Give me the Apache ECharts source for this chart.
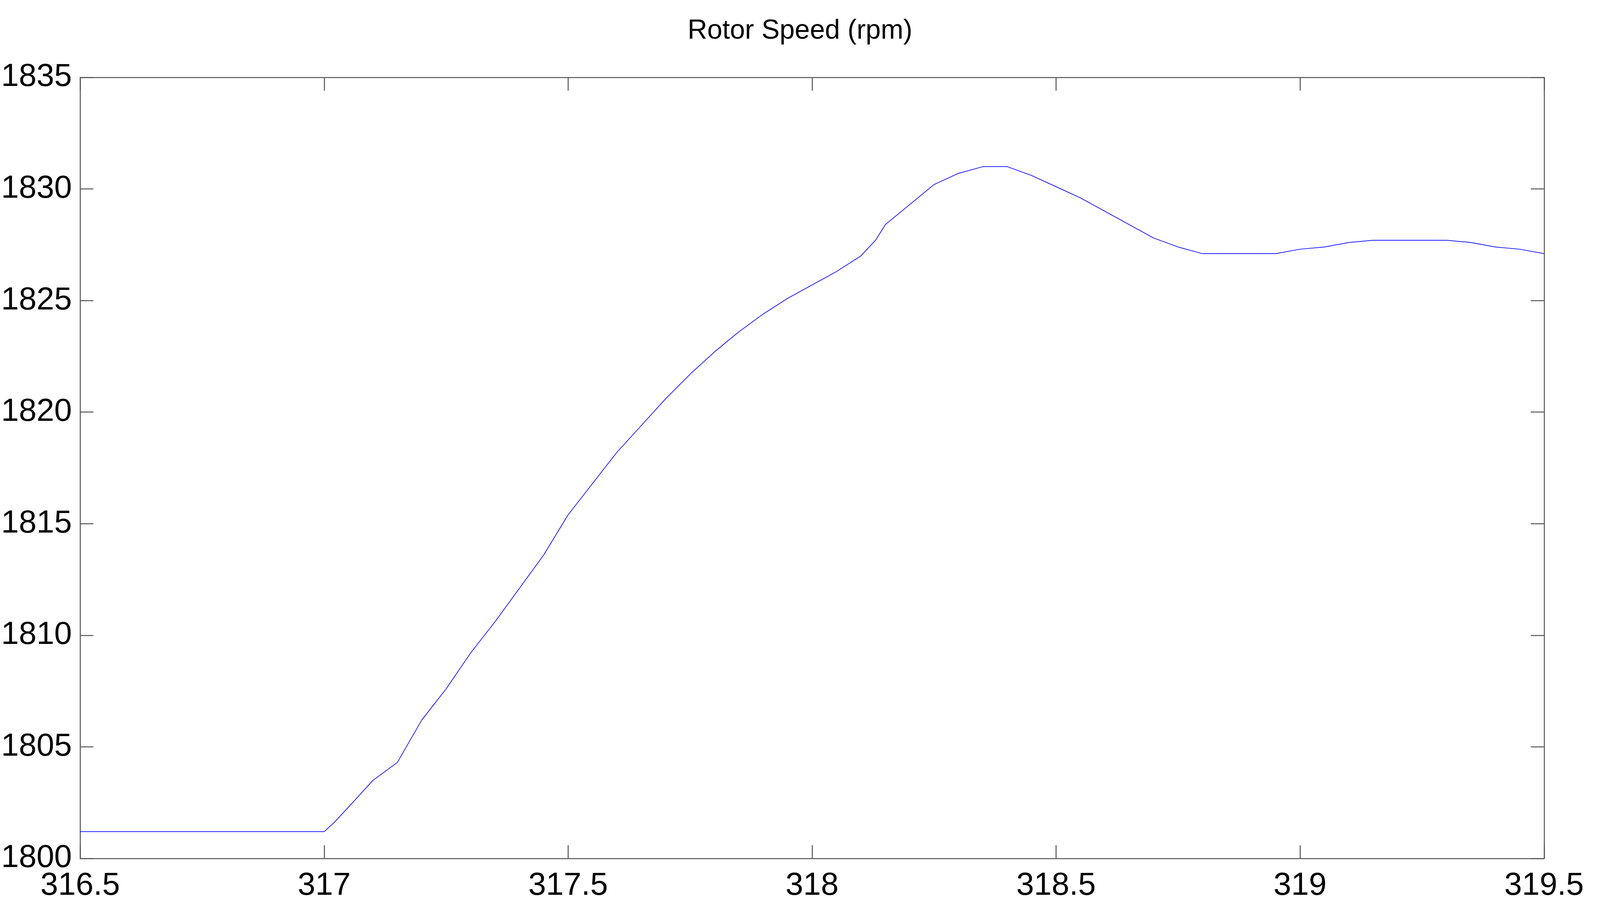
<!DOCTYPE html>
<html>
<head>
<meta charset="utf-8">
<script src="https://cdn.jsdelivr.net/npm/echarts@6/dist/echarts.min.js"></script>
<style>html,body{margin:0;padding:0;background:#fff;overflow:hidden}#main{width:100vw;height:100vh}</style>
</head>
<body>
<div id="main"></div>
<script>
var timeS = [316.5, 317.0, 317.02, 317.05, 317.1, 317.15, 317.2, 317.25, 317.3, 317.35, 317.4, 317.45, 317.5,
    317.55, 317.6, 317.65, 317.7, 317.75, 317.8, 317.85, 317.9, 317.95, 318.0, 318.05, 318.1, 318.13, 318.15,
    318.2, 318.25, 318.3, 318.35, 318.4, 318.45, 318.5, 318.55, 318.6, 318.65, 318.7, 318.75, 318.8, 318.85,
    318.9, 318.95, 319.0, 319.05, 319.1, 319.15, 319.2, 319.25, 319.3, 319.35, 319.4, 319.45, 319.5];
var rotorSpeed = [1801.2, 1801.2, 1801.6, 1802.3, 1803.5, 1804.3, 1806.2, 1807.6, 1809.2, 1810.6, 1812.1, 1813.6, 1815.4,
    1816.8, 1818.2, 1819.4, 1820.6, 1821.7, 1822.7, 1823.6, 1824.4, 1825.1, 1825.7, 1826.3, 1827.0, 1827.7, 1828.4,
    1829.3, 1830.2, 1830.7, 1831.0, 1831.0, 1830.6, 1830.1, 1829.6, 1829.0, 1828.4, 1827.8, 1827.4, 1827.1, 1827.1,
    1827.1, 1827.1, 1827.3, 1827.4, 1827.6, 1827.7, 1827.7, 1827.7, 1827.7, 1827.6, 1827.4, 1827.3, 1827.1];
var titleText = 'Rotor Speed (rpm)';

var el = document.getElementById('main');
var W = el.clientWidth, H = el.clientHeight;
var s = W / 4833, sy = H / 2352;
var chart = echarts.init(el);
var axisFont = { fontFamily: 'Liberation Sans, Arial', fontSize: 96 * s, color: '#000' };
var axisLine = { show: true, lineStyle: { color: '#555', width: Math.max(1, 3 * s) } };
var tick = { show: true, inside: true, length: 40 * s, lineStyle: { color: '#555', width: Math.max(1, 3 * s) } };
var plain = function (v) { return String(v); };
chart.setOption({
    animation: false,
    backgroundColor: '#fff',
    title: {
        text: titleText, left: 'center', top: 40 * sy,
        textStyle: { fontFamily: 'Liberation Sans, Arial', fontSize: 82 * s, fontWeight: 'normal', color: '#000' }
    },
    grid: { left: 237 * s, right: (4833 - 4664) * s, top: 198 * sy, bottom: (2352 - 2197) * sy },
    xAxis: [
        { type: 'value', min: 316.5, max: 319.5, interval: 0.5, position: 'bottom',
          axisLine: axisLine, axisTick: tick, splitLine: { show: false },
          axisLabel: Object.assign({ margin: 35 * s, formatter: plain }, axisFont) },
        { type: 'value', min: 316.5, max: 319.5, interval: 0.5, position: 'top',
          axisLine: axisLine, axisTick: tick, splitLine: { show: false }, axisLabel: { show: false } }
    ],
    yAxis: [
        { type: 'value', min: 1800, max: 1835, interval: 5, position: 'left',
          axisLine: axisLine, axisTick: tick, splitLine: { show: false },
          axisLabel: Object.assign({ margin: 25 * s, formatter: plain }, axisFont) },
        { type: 'value', min: 1800, max: 1835, interval: 5, position: 'right',
          axisLine: axisLine, axisTick: tick, splitLine: { show: false }, axisLabel: { show: false } }
    ],
    series: [{
        type: 'line',
        data: timeS.map(function (t, i) { return [t, rotorSpeed[i]]; }),
        showSymbol: false,
        lineStyle: { color: '#0000ff', width: Math.max(1, 2 * s) }
    }]
});
</script>
</body>
</html>
